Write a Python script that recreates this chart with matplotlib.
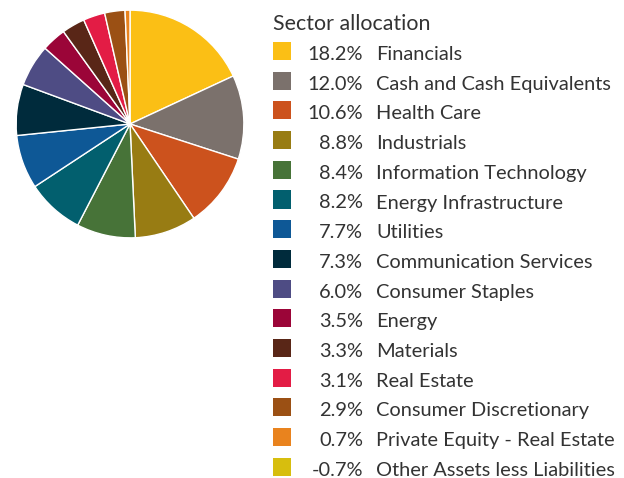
import matplotlib
matplotlib.use('Agg')
import matplotlib.pyplot as plt
from matplotlib.patches import Rectangle

sectors = ['Financials', 'Cash and Cash Equivalents', 'Health Care', 'Industrials',
           'Information Technology', 'Energy Infrastructure', 'Utilities',
           'Communication Services', 'Consumer Staples', 'Energy', 'Materials',
           'Real Estate', 'Consumer Discretionary', 'Private Equity - Real Estate',
           'Other Assets less Liabilities']
weights = [18.2, 12.0, 10.6, 8.8, 8.4, 8.2, 7.7, 7.3, 6.0, 3.5, 3.3, 3.1, 2.9, 0.7, -0.7]
colors = ['#FBBF15', '#7B716C', '#CC521D', '#987C13', '#477338', '#025F6E', '#0E5896',
          '#002B3C', '#4E4C84', '#9B0538', '#592617', '#E31C45', '#9B5014', '#E9831E',
          '#D7BE0E']

W, H = 624, 478
FONT = 'Lato'
TEXT_COLOR = '#333333'

fig = plt.figure(figsize=(W / 100, H / 100), dpi=100)

# pie only shows the positive holdings
pos = [(w, c) for w, c in zip(weights, colors) if w > 0]
cx, cy, r = 130, 124, 115
ax = fig.add_axes([(cx - r) / W, 1 - (cy + r) / H, 2 * r / W, 2 * r / H])
ax.pie([p[0] for p in pos], colors=[p[1] for p in pos], startangle=90,
       counterclock=False, radius=1,
       wedgeprops=dict(edgecolor='white', linewidth=1))
ax.set_xlim(-1.01, 1.01)
ax.set_ylim(-1.01, 1.01)
ax.set_aspect('equal')
ax.axis('off')

# legend drawn by hand in pixel coordinates
def fx(px):
    return px / W

def fy(py):
    return 1 - py / H

fig.text(fx(273), fy(30), 'Sector allocation', fontsize=15.4, family=FONT,
         color=TEXT_COLOR, va='baseline', ha='left')

row0, step, sq = 60, 29.7, 18
for i, (name, w, c) in enumerate(zip(sectors, weights, colors)):
    base = row0 + i * step
    fig.patches.append(Rectangle((fx(273), fy(base)), sq / W, sq / H,
                                 transform=fig.transFigure, facecolor=c,
                                 edgecolor='none'))
    fig.text(fx(363), fy(base), f'{w:.1f}%', fontsize=14.4, family=FONT,
             color=TEXT_COLOR, va='baseline', ha='right')
    fig.text(fx(376), fy(base), name, fontsize=14.4, family=FONT,
             color=TEXT_COLOR, va='baseline', ha='left')

fig.savefig('out.png', dpi=100)
